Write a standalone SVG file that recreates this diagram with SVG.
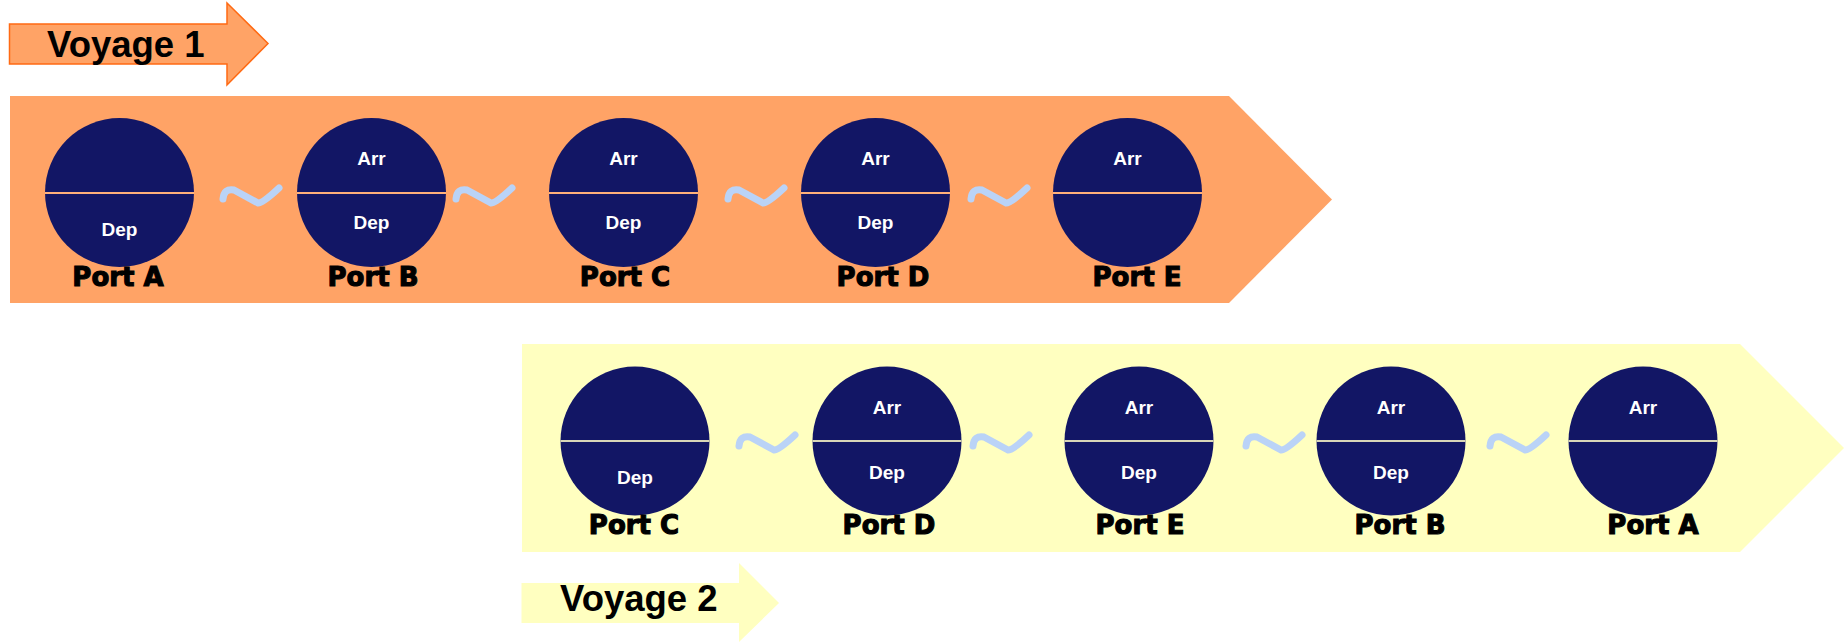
<svg xmlns="http://www.w3.org/2000/svg" width="1845" height="642" viewBox="0 0 1845 642">
<defs>
<style>
.port{fill:#121665}
.l1{stroke:#FFB07A;stroke-width:2}
.l2{stroke:#D8D6B8;stroke-width:2}
.ad{font-family:"Liberation Sans",Arial,sans-serif;font-weight:bold;font-size:19px;fill:#ffffff;text-anchor:middle}
.lbl{font-family:"DejaVu Sans","Liberation Sans",sans-serif;font-weight:bold;font-size:26px;fill:#000000;stroke:#000000;stroke-width:1.1;text-anchor:middle}
.voy{font-family:"Liberation Sans",Arial,sans-serif;font-weight:bold;font-size:36.5px;fill:#000000}
.sq{fill:none;stroke:#BAD3F7;stroke-width:7;stroke-linecap:round;stroke-linejoin:round}
</style>
<path id="sqg" d="M1,13 Q2,2 12,4 L36,17 Q40,18 57,2"/>
</defs>
<rect width="1845" height="642" fill="#ffffff"/>

<g id="voyage1">
<polygon points="9.5,24 227,24 227,3 268,43.5 227,85 227,64 9.5,64" fill="#FFA366" stroke="#FF6A13" stroke-width="1.5"/>
<text class="voy" x="47" y="57">Voyage 1</text>
</g>

<g id="band1">
<polygon points="10,96 1229,96 1332,199.5 1229,303 10,303" fill="#FFA366"/>
</g>

<g id="band2">
<polygon points="522,344 1740,344 1844,448 1740,552 522,552" fill="#FFFFC0"/>
</g>

<g id="voyage2">
<polygon points="521.5,583 739,583 739,563 779,603 739,642 739,623 521.5,623" fill="#FFFFC0"/>
<text class="voy" x="560" y="611">Voyage 2</text>
</g>

<g id="connectors">
<use href="#sqg" class="sq" x="222" y="186"/>
<use href="#sqg" class="sq" x="455" y="186"/>
<use href="#sqg" class="sq" x="727" y="186"/>
<use href="#sqg" class="sq" x="970" y="186"/>
<use href="#sqg" class="sq" x="738" y="433"/>
<use href="#sqg" class="sq" x="972" y="433"/>
<use href="#sqg" class="sq" x="1245" y="433"/>
<use href="#sqg" class="sq" x="1489" y="433"/>
</g>

<g id="v1-portA">
<circle class="port" cx="119.5" cy="192.5" r="74.5"/>
<line class="l1" x1="45" y1="193" x2="194" y2="193"/>
<text class="ad" x="119.5" y="236">Dep</text>
<text class="lbl" x="118" y="286">Port A</text>
</g>
<g id="v1-portB">
<circle class="port" cx="371.5" cy="192.5" r="74.5"/>
<line class="l1" x1="297" y1="193" x2="446" y2="193"/>
<text class="ad" x="371.5" y="165">Arr</text>
<text class="ad" x="371.5" y="229">Dep</text>
<text class="lbl" x="373" y="286">Port B</text>
</g>
<g id="v1-portC">
<circle class="port" cx="623.5" cy="192.5" r="74.5"/>
<line class="l1" x1="549" y1="193" x2="698" y2="193"/>
<text class="ad" x="623.5" y="165">Arr</text>
<text class="ad" x="623.5" y="229">Dep</text>
<text class="lbl" x="625" y="286">Port C</text>
</g>
<g id="v1-portD">
<circle class="port" cx="875.5" cy="192.5" r="74.5"/>
<line class="l1" x1="801" y1="193" x2="950" y2="193"/>
<text class="ad" x="875.5" y="165">Arr</text>
<text class="ad" x="875.5" y="229">Dep</text>
<text class="lbl" x="883" y="286">Port D</text>
</g>
<g id="v1-portE">
<circle class="port" cx="1127.5" cy="192.5" r="74.5"/>
<line class="l1" x1="1053" y1="193" x2="1202" y2="193"/>
<text class="ad" x="1127.5" y="165">Arr</text>
<text class="lbl" x="1137" y="286">Port E</text>
</g>

<g id="v2-portC">
<circle class="port" cx="635" cy="441" r="74.5"/>
<line class="l2" x1="560.5" y1="441" x2="709.5" y2="441"/>
<text class="ad" x="635" y="484">Dep</text>
<text class="lbl" x="634" y="534">Port C</text>
</g>
<g id="v2-portD">
<circle class="port" cx="887" cy="441" r="74.5"/>
<line class="l2" x1="812.5" y1="441" x2="961.5" y2="441"/>
<text class="ad" x="887" y="414">Arr</text>
<text class="ad" x="887" y="479">Dep</text>
<text class="lbl" x="889" y="534">Port D</text>
</g>
<g id="v2-portE">
<circle class="port" cx="1139" cy="441" r="74.5"/>
<line class="l2" x1="1064.5" y1="441" x2="1213.5" y2="441"/>
<text class="ad" x="1139" y="414">Arr</text>
<text class="ad" x="1139" y="479">Dep</text>
<text class="lbl" x="1140" y="534">Port E</text>
</g>
<g id="v2-portB">
<circle class="port" cx="1391" cy="441" r="74.5"/>
<line class="l2" x1="1316.5" y1="441" x2="1465.5" y2="441"/>
<text class="ad" x="1391" y="414">Arr</text>
<text class="ad" x="1391" y="479">Dep</text>
<text class="lbl" x="1400" y="534">Port B</text>
</g>
<g id="v2-portA">
<circle class="port" cx="1643" cy="441" r="74.5"/>
<line class="l2" x1="1568.5" y1="441" x2="1717.5" y2="441"/>
<text class="ad" x="1643" y="414">Arr</text>
<text class="lbl" x="1653" y="534">Port A</text>
</g>
</svg>
